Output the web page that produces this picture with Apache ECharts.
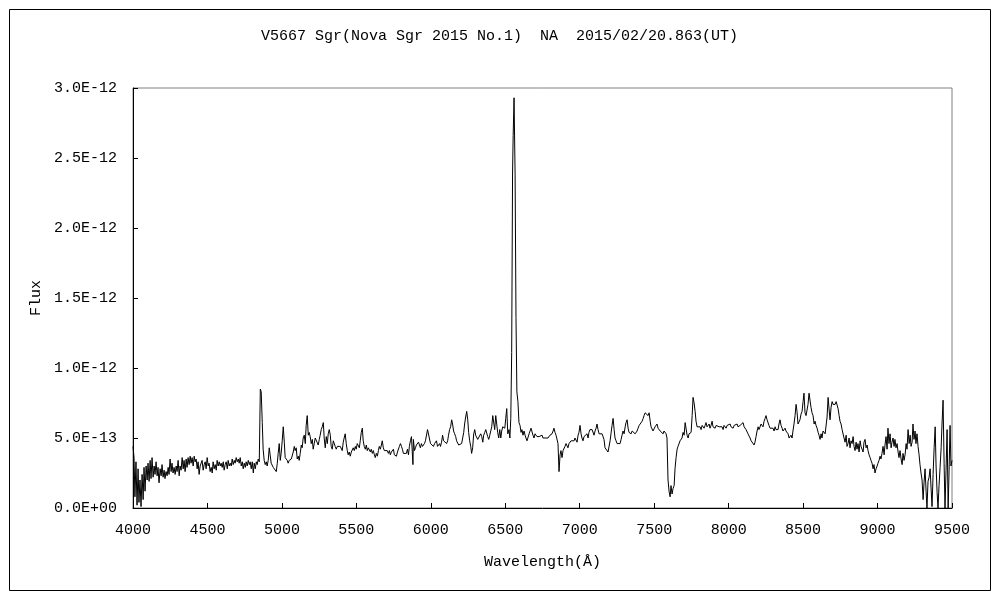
<!DOCTYPE html>
<html>
<head>
<meta charset="utf-8">
<script src="https://cdn.jsdelivr.net/npm/echarts@6/dist/echarts.min.js"></script>
<style>html,body{margin:0;padding:0;background:#fff;}#c{width:1000px;height:600px;}</style>
</head>
<body>
<div id="c"></div>
<script>
const chartTitle = 'V5667 Sgr(Nova Sgr 2015 No.1)  NA  2015/02/20.863(UT)';
const xAxisName = 'Wavelength(\u00C5)';
const yAxisName = 'Flux';
const xTickLabels = ['4000','4500','5000','5500','6000','6500','7000','7500','8000','8500','9000','9500'];
const yTickLabels = ['0.0E+00','5.0E-13','1.0E-12','1.5E-12','2.0E-12','2.5E-12','3.0E-12'];
// wavelength in Angstrom
const wavelength = [
4000,4007,4013,4020,4027,4034,4040,4047,4054,4061,4068,4074,4081,4088,4095,4101,
4108,4115,4121,4128,4135,4142,4148,4155,4162,4168,4175,4182,4189,4195,4202,4209,4215,4222,4229,4236,4242,4249,4256,4262,4269,4276,4283,4290,4296,4303,4310,4316,4323,4330,4337,4343,4350,4357,4363,4370,4377,4384,4390,4397,4404,4411,4417,4424,4431,4437,4444,4451,4458,4464,4471,4478,4485,4491,4498,4505,4511,4518,4525,4532,4538,4545,4552,4559,4565,4572,4579,4586,4592,4599,4606,4612,4619,4626,4633,4639,4646,4653,4660,4666,4673,4680,4686,4693,4700,4707,4713,4720,4727,4734,4740,4747,4754,4760,4767,4774,4781,4787,4794,4801,4808,4814,4821,4828,4834,4841,4848,
4855,4861,4868,4874,4881,4888,4895,4901,4908,4915,4921,4928,4935,4942,4948,4955,4962,4969,4975,4982,4989,4995,5002,5009,5016,5022,5029,5036,5042,5049,5056,5063,5069,5076,5083,5089,5096,5103,5110,5116,5123,5130,5136,5143,5150,5157,5163,5170,5177,5183,5190,5197,5204,5210,5217,5224,5230,5237,5244,5251,5257,5264,5271,5278,5284,5291,5298,5305,5311,5318,5325,5331,5338,5345,5352,5358,5365,5372,5378,5385,5392,
5398,5405,5412,5418,5425,5432,5439,5445,5452,5459,5466,5472,5479,5486,5493,5499,5506,5513,5520,5526,5533,5540,5546,5553,5560,5567,5573,5580,5587,5594,5600,5607,5614,5621,5627,5634,5641,5648,5654,5661,5668,5674,5681,5688,5695,5701,5708,5715,5722,5728,5735,5742,5749,5755,5762,5769,5776,5782,5789,5796,5803,5809,5816,5823,5829,5836,5843,5850,5856,5863,5870,5876,5880,5883,5890,5897,5903,5910,5917,5924,5930,5937,5944,5951,5957,5964,5971,5978,5984,5991,5998,6005,6011,6018,6025,6032,6038,6045,6052,6059,6065,6072,6079,6086,6092,6099,6106,6113,6119,6126,6133,6140,6146,6153,6160,6167,6173,6180,6187,6194,6200,6207,6214,6221,6227,6234,6241,6248,6254,6261,6268,6274,6281,6288,6295,6301,6308,6315,6322,6328,6335,6342,6349,6355,6362,6369,6375,6382,6389,6396,6402,6409,6416,6422,6429,6436,6443,6449,6456,6463,6470,6476,6483,6490,6497,6503,6510,6517,
6525,6531,6537,6543,6549,6553,6559,6566,6572,6578,6585,6592,6599,6606,6612,6619,6626,6633,6639,6646,6653,6660,6666,6673,6680,6686,6693,6700,6707,6713,6720,6727,6733,6740,6747,6753,6760,6767,6774,6780,6787,6794,6800,6807,6814,6821,6827,6834,6841,6847,6854,6861,6868,6874,6881,6888,6894,6901,6908,6915,6921,6928,6935,6942,6948,6955,6962,6968,6975,6982,6989,6995,7002,7009,7015,7022,7029,7036,7042,7049,7056,7062,7069,7076,7083,7089,7096,7103,7110,7116,7123,7130,7136,7143,7150,7156,7163,7170,7177,7183,7190,7197,7204,7210,7217,7224,7231,7237,7244,7251,7257,7264,7271,7278,7284,7291,7298,7305,7311,7318,7325,7331,7338,7345,7352,7358,7365,7372,7378,7385,7392,7399,7405,7412,7419,7426,7432,7439,7446,7452,7459,7466,7473,7479,7486,7492,7499,7506,7513,7519,7526,7533,7540,7546,7553,7560,7566,7573,7580,7586,
7593,7600,7607,7613,7620,7627,7634,7640,7647,7654,7660,7667,7674,7681,7687,7694,7701,7708,7714,7721,7728,7734,7741,7748,7755,7761,7768,7775,7781,7788,
7795,7801,7808,7815,7822,7828,7835,7842,7848,7855,7862,7869,7875,7882,7889,7895,7902,7909,7916,7922,7929,7936,7943,7949,7956,7963,7969,7976,7983,7990,7996,8003,8010,8016,8023,8030,8037,8043,8050,8057,8063,8070,8077,8084,8090,8097,8104,8110,8117,8124,8130,8137,8144,8151,8157,8164,8171,8177,8184,8191,8198,8204,8211,8218,8224,8231,8238,8245,8251,8258,8265,8271,8278,8285,8291,8298,8305,8312,8318,8325,8332,8338,8345,8352,8359,8365,8372,8379,8385,8392,8399,8406,8412,8419,8426,8432,8439,8446,8453,8459,8466,8473,8479,8486,8493,8500,8506,8513,8520,8526,8533,8540,8547,8553,8560,8567,8574,8580,8587,8594,8601,8607,8614,8621,8627,8634,8641,8648,8654,8661,8668,8675,8681,8688,8695,8701,8708,8715,8722,8728,8735,8742,8748,8755,8762,8768,8775,8782,8789,8795,8802,8809,8815,8822,8829,8836,8842,8849,8856,8862,8869,8876,8883,8889,8896,8903,8909,8916,8923,8930,8936,8943,8950,8956,8963,8970,8976,8983,8990,8997,9003,9010,9017,9023,9030,9037,9044,9050,9057,9064,9070,9077,9084,9091,9097,9104,9111,9117,9124,9131,9138,9144,9151,9158,9165,9171,9178,9185,9192,9198,9205,9212,9219,9225,9232,9238,9245,9252,9258,9265,9272,9279,9285,9292,9299,9306,9312,9319,9326,9332,9339,9346,9353,9359,9366,9373,9380,9387,9393,9400,9406,9413,9420,9427,9433,9440,9447,9453,9460,9467,9474,9480,9487,9493,9500
];
// flux in units of 1E-13
const flux = [
4.4,3.6,0.8,3.3,0.2,2.8,0.4,2.0,0.1,2.4,0.6,2.9,1.2,3.0,2.0,3.2,
1.9,3.4,2.1,3.6,2.2,3.0,2.4,3.3,2.3,2.9,1.8,2.8,2.3,3.1,2.2,2.7,2.1,2.6,2.3,2.9,2.4,3.5,2.6,3.2,2.5,2.9,2.4,3.0,2.6,3.4,2.3,3.0,2.7,3.6,2.8,3.4,2.6,3.5,2.9,3.6,3.1,3.7,3.2,3.6,3.0,3.7,3.3,3.5,2.8,3.3,2.4,3.0,2.9,3.4,2.7,3.1,3.3,2.8,3.6,3.0,3.2,2.6,2.9,2.5,3.3,2.8,3.1,2.7,3.4,3.0,3.3,3.0,3.2,2.9,3.3,2.7,3.1,3.3,2.8,3.4,3.0,3.2,3.0,3.5,3.1,3.4,3.2,3.6,3.3,3.5,3.2,3.6,3.0,3.3,2.8,3.2,2.9,3.3,3.0,3.4,3.1,3.3,2.8,3.3,2.5,3.2,2.8,3.3,3.1,3.5,3.3,
8.5,8.3,6.1,4.2,3.4,3.1,3.3,3.0,3.4,4.3,3.8,3.2,3.1,2.9,3.0,2.8,2.6,3.2,3.9,4.6,3.4,3.9,4.8,5.8,4.7,3.6,3.5,3.4,3.2,3.4,3.3,3.5,3.4,4.0,4.4,4.1,4.3,3.5,3.7,3.4,3.9,4.5,4.3,5.0,5.2,4.6,5.9,6.6,5.2,5.4,5.1,4.6,4.9,4.2,4.6,5.0,4.9,5.1,4.5,4.9,5.2,5.6,5.8,6.1,5.0,4.3,5.1,4.6,5.3,5.6,5.2,4.4,4.2,4.8,4.7,4.4,4.2,4.4,4.5,4.3,4.4,
4.5,4.1,4.7,5.0,5.3,4.6,4.1,3.8,4.0,3.7,4.0,3.9,4.3,4.1,4.4,4.2,4.6,4.5,4.3,4.8,5.4,5.7,4.8,4.4,4.2,4.5,4.1,4.3,4.4,4.0,4.2,3.9,4.1,3.8,3.6,3.9,3.7,4.1,4.4,4.2,4.5,4.8,4.3,4.1,4.2,4.0,4.1,3.9,4.1,3.8,4.0,3.9,4.2,3.8,3.9,3.7,4.0,4.1,4.4,4.6,4.4,4.2,3.9,3.8,4.0,3.9,4.2,3.8,4.4,4.8,5.1,5.2,3.1,4.9,4.1,4.3,4.5,4.4,4.7,4.5,4.3,4.6,4.4,4.5,4.6,4.8,4.7,5.6,5.6,5.6,4.6,4.5,4.7,4.4,4.6,4.5,4.8,4.4,4.5,4.6,4.4,4.7,5.2,4.8,4.9,4.7,4.6,4.8,5.2,5.6,5.8,6.3,6.0,5.5,5.3,5.1,4.8,4.7,4.5,4.4,4.5,4.6,5.0,5.4,6.0,6.5,6.9,6.3,5.4,4.8,4.4,3.9,4.3,5.3,5.6,5.2,5.1,4.9,4.8,5.0,5.3,5.1,4.7,5.2,5.4,5.6,5.5,5.1,4.9,5.2,5.3,5.8,6.6,6.6,5.6,6.6,6.6,5.4,5.0,5.6,5.0,5.5,5.8,5.9,5.7,6.4,7.1,5.3,
5.6,5.0,6.4,11.1,24.0,26.6,29.3,23.8,13.6,8.3,7.6,6.1,5.9,5.4,5.6,5.2,5.5,5.2,5.0,4.8,4.9,5.3,5.2,5.7,5.6,5.2,5.0,5.3,5.2,5.1,5.0,5.1,5.1,5.0,5.2,5.0,5.1,5.0,5.1,4.9,5.0,5.1,5.2,5.3,5.3,5.5,5.7,5.4,5.2,5.1,4.6,2.6,3.8,4.1,3.6,4.1,4.0,4.4,4.6,4.5,4.3,4.6,4.5,4.8,4.7,4.9,4.8,5.0,4.9,4.7,5.2,5.4,5.9,5.3,5.0,4.8,5.1,5.0,5.2,5.3,5.0,5.4,5.6,5.5,5.6,5.5,5.2,5.5,5.7,6.0,5.6,5.3,5.2,5.4,5.3,5.4,4.9,4.3,4.2,4.4,4.0,4.1,4.8,5.3,5.9,6.4,5.6,5.0,4.8,4.6,4.7,4.5,4.6,4.9,5.2,5.5,5.3,5.8,6.1,6.3,5.7,5.4,5.5,5.3,5.5,5.4,5.6,5.3,5.4,5.5,5.7,5.9,6.0,5.8,6.2,6.4,6.6,6.8,6.7,6.9,6.6,6.8,6.2,5.8,5.7,5.5,5.6,5.8,5.9,6.0,5.7,5.6,5.5,5.4,5.6,5.3,5.5,5.4,5.3,5.0,
2.0,1.2,0.8,1.6,1.0,1.4,1.6,2.8,3.6,4.2,4.4,4.3,4.8,4.9,5.0,5.4,5.2,6.1,6.1,5.2,5.0,5.3,5.4,5.4,6.6,7.9,7.5,6.9,6.2,5.8,
5.9,5.7,5.8,5.6,5.9,5.8,5.7,5.9,6.1,5.8,5.9,6.0,5.7,5.9,6.2,5.8,5.9,5.7,5.9,5.8,6.0,5.8,5.9,5.7,5.8,5.6,5.9,5.8,5.7,5.9,5.8,5.9,6.0,5.8,5.9,5.7,5.9,5.8,5.9,6.0,5.8,5.9,5.9,6.0,6.0,6.1,5.8,5.9,5.6,5.7,5.3,5.2,5.0,4.8,4.7,4.9,4.5,4.7,5.1,5.5,5.8,5.6,5.7,6.0,6.0,5.8,6.2,6.4,6.6,6.3,6.2,5.9,5.7,5.8,5.6,5.7,5.5,5.8,5.6,5.7,5.6,6.0,6.3,5.9,5.7,5.5,5.6,5.7,5.5,5.4,5.3,5.0,4.9,5.2,5.0,5.5,6.0,6.6,7.4,6.9,6.0,6.1,6.3,6.7,6.9,7.6,8.2,6.8,6.6,6.6,7.4,8.2,8.2,7.2,6.8,6.6,6.0,6.2,5.9,5.7,5.4,5.2,4.9,5.3,5.0,5.5,5.6,5.3,5.4,6.5,7.9,7.0,6.3,7.2,7.6,7.4,7.5,7.4,7.6,7.6,7.1,6.6,6.2,6.0,5.6,5.5,5.0,4.7,5.2,4.4,4.6,5.0,4.3,4.8,4.6,5.1,4.4,4.1,4.7,4.2,4.6,4.0,4.8,4.4,4.5,4.0,4.7,4.9,4.3,4.5,4.1,3.8,3.6,3.4,3.2,2.8,3.1,2.5,2.8,3.0,3.2,3.4,3.7,3.5,3.9,4.4,3.8,4.5,5.1,4.2,5.7,4.6,5.3,4.3,4.7,5.0,4.4,4.9,4.3,4.6,4.0,3.6,4.1,3.5,3.1,3.9,3.4,3.8,4.6,4.2,5.6,4.6,5.2,4.4,4.7,6.0,4.9,5.5,4.6,5.3,4.4,3.8,3.1,2.5,2.0,0.6,1.8,2.8,1.2,0.0,1.9,2.2,2.8,1.5,0.1,2.4,4.3,5.8,3.0,1.1,0.0,1.6,2.9,4.3,6.0,7.7,3.2,0.0,2.7,5.6,0.0,2.5,5.9,3.0,3.4
];

const seriesData = wavelength.map((w, i) => [w, flux[i]]);
const FONT = '"Liberation Mono", "DejaVu Sans Mono", monospace';

const chart = echarts.init(document.getElementById('c'), null, {renderer: 'canvas'});
chart.setOption({
  animation: false,
  backgroundColor: '#ffffff',
  title: {
    text: chartTitle,
    left: 256,
    top: 24,
    textStyle: {fontFamily: FONT, fontSize: 15, fontWeight: 'normal', color: '#000'}
  },
  graphic: [{
    type: 'rect',
    shape: {x: 9.5, y: 9.5, width: 981, height: 581},
    style: {fill: 'none', stroke: '#000', lineWidth: 1},
    silent: true, z: -1
  }],
  grid: {
    left: 133, right: 48, top: 88, bottom: 92,
    show: true, borderColor: '#808080', borderWidth: 1, backgroundColor: 'transparent'
  },
  xAxis: {
    type: 'value', min: 4000, max: 9500, interval: 500,
    name: xAxisName, nameLocation: 'middle', nameGap: 47,
    nameTextStyle: {fontFamily: FONT, fontSize: 15, color: '#000'},
    axisLine: {show: true, onZero: false, lineStyle: {color: '#000', width: 1}},
    axisTick: {show: true, inside: true, length: 5, lineStyle: {color: '#000'}},
    axisLabel: {fontFamily: FONT, fontSize: 15, color: '#000', margin: 15,
      formatter: (v) => xTickLabels[Math.round((v - 4000) / 500)]},
    splitLine: {show: false}
  },
  yAxis: {
    type: 'value', min: 0, max: 30, interval: 5,
    name: yAxisName, nameLocation: 'middle', nameGap: 86,
    nameTextStyle: {fontFamily: FONT, fontSize: 15, color: '#000'},
    axisLine: {show: true, lineStyle: {color: '#000', width: 1}},
    axisTick: {show: true, inside: true, length: 5, lineStyle: {color: '#000'}},
    axisLabel: {fontFamily: FONT, fontSize: 15, color: '#000', margin: 16,
      formatter: (v) => yTickLabels[Math.round(v / 5)]},
    splitLine: {show: false}
  },
  series: [{
    type: 'line',
    data: seriesData,
    symbol: 'none',
    smooth: false,
    lineStyle: {color: '#000', width: 1},
    clip: true
  }]
});
</script>
</body>
</html>
